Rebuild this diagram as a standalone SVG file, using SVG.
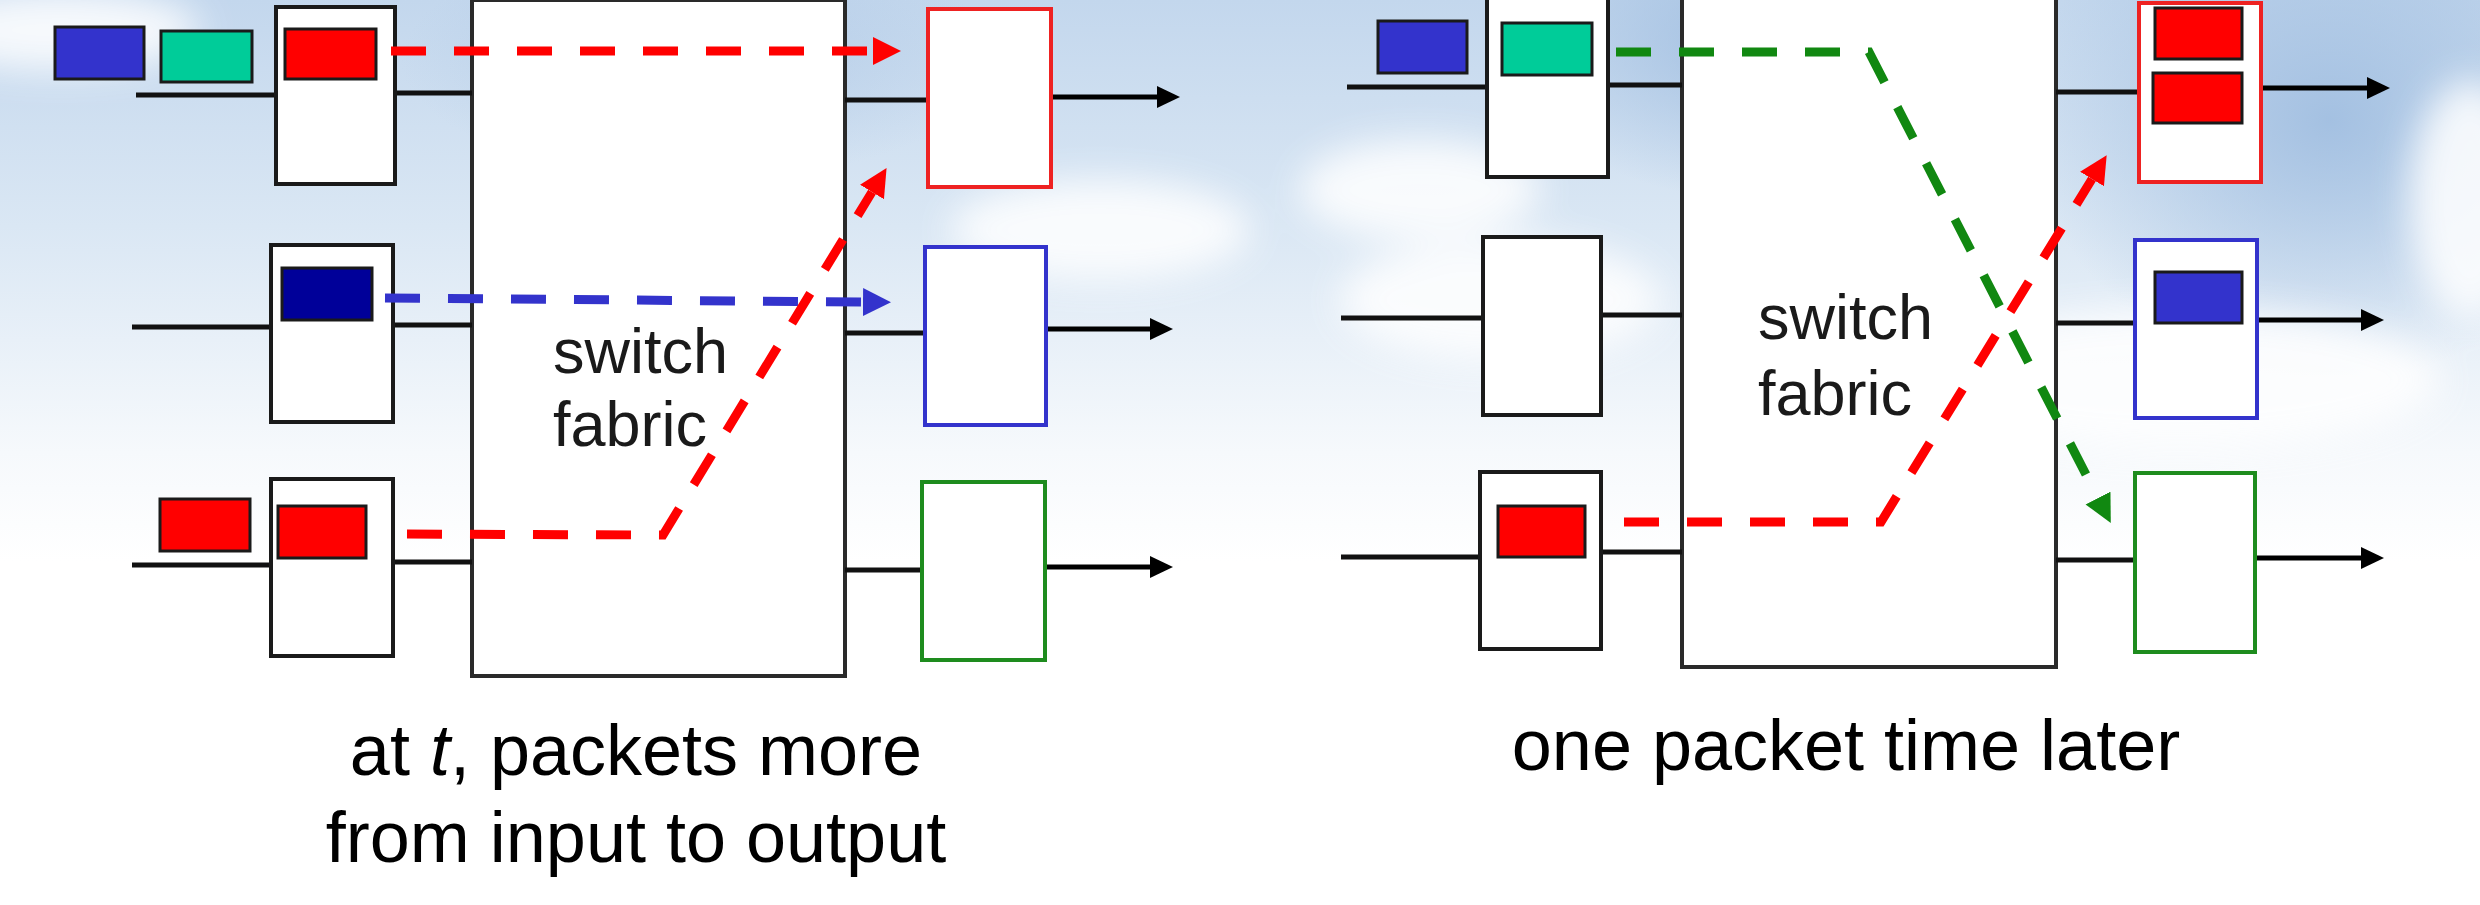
<svg xmlns="http://www.w3.org/2000/svg" width="2480" height="905" viewBox="0 0 2480 905">
<defs>
<linearGradient id="sky" x1="0" y1="0" x2="0" y2="1">
<stop offset="0" stop-color="#c3d7ed"/>
<stop offset="0.25" stop-color="#dae7f4"/>
<stop offset="0.5" stop-color="#f6f9fc"/>
<stop offset="0.62" stop-color="#ffffff"/>
<stop offset="1" stop-color="#ffffff"/>
</linearGradient>
<radialGradient id="deep" cx="0.5" cy="0.5" r="0.5">
<stop offset="0" stop-color="#9fbde0" stop-opacity="0.9"/>
<stop offset="1" stop-color="#9fbde0" stop-opacity="0"/>
</radialGradient>
<filter id="blur" x="-50%" y="-50%" width="200%" height="200%"><feGaussianBlur stdDeviation="18"/></filter>
<marker id="ah-red" markerUnits="userSpaceOnUse" markerWidth="30" markerHeight="30" refX="0" refY="14" orient="auto"><path d="M0,0 L28,14 L0,28 z" fill="#ff0000"/></marker>
<marker id="ah-blue" markerUnits="userSpaceOnUse" markerWidth="30" markerHeight="30" refX="0" refY="14" orient="auto"><path d="M0,0 L28,14 L0,28 z" fill="#3333cc"/></marker>
<marker id="ah-green" markerUnits="userSpaceOnUse" markerWidth="30" markerHeight="30" refX="0" refY="14" orient="auto"><path d="M0,0 L28,14 L0,28 z" fill="#118811"/></marker>
<marker id="ah-black" markerUnits="userSpaceOnUse" markerWidth="24" markerHeight="24" refX="0" refY="11" orient="auto"><path d="M0,0 L23,11 L0,22 z" fill="#000"/></marker>
</defs>
<style>
.inbox{fill:#fff;stroke:#1a1a1a;stroke-width:4}
.fabric{fill:#fff;stroke:#2a2a2a;stroke-width:4}
.wire{stroke:#111;stroke-width:5;fill:none}
.out{stroke:#000;stroke-width:5;fill:none;marker-end:url(#ah-black)}
.pk{stroke:#1a1a1a;stroke-width:3}
.red{fill:#ff0000}.blu{fill:#3333cc}.nav{fill:#000099}.grn{fill:#00cc99}
.obr{fill:#fff;stroke:#ee2222;stroke-width:4}
.obb{fill:#fff;stroke:#3333cc;stroke-width:4}
.obg{fill:#fff;stroke:#1e8c1e;stroke-width:4}
.dash{fill:none;stroke-width:9;stroke-dasharray:35 28}
.lbl{font-family:"Liberation Sans",Arial,sans-serif;font-size:63px;fill:#1a1a1a}
.cap{font-family:"Liberation Sans",Arial,sans-serif;font-size:72px;fill:#000;text-anchor:middle}
</style>
<g id="background">
<rect x="0" y="0" width="2480" height="905" fill="url(#sky)"/>
<ellipse cx="1760" cy="40" rx="260" ry="160" fill="url(#deep)"/>
<ellipse cx="2330" cy="120" rx="300" ry="260" fill="url(#deep)"/>
<ellipse cx="700" cy="60" rx="300" ry="120" fill="url(#deep)" opacity="0.5"/>
<g filter="url(#blur)" fill="#ffffff" opacity="0.85">
<ellipse cx="60" cy="30" rx="140" ry="40"/>
<ellipse cx="1420" cy="190" rx="120" ry="50"/>
<ellipse cx="1500" cy="300" rx="160" ry="60"/>
<ellipse cx="2180" cy="380" rx="260" ry="70"/>
<ellipse cx="2470" cy="200" rx="60" ry="120"/>
<ellipse cx="1100" cy="230" rx="150" ry="50"/>
</g>
</g>
<g id="left-panel">
<g id="L-fabric"><rect class="fabric" x="472" y="0" width="373" height="676"/>
<text class="lbl" x="553" y="373">switch</text><text class="lbl" x="553" y="446">fabric</text></g>
<g id="L-wires">
<line class="wire" x1="136" y1="95" x2="276" y2="95"/><line class="wire" x1="395" y1="93" x2="472" y2="93"/>
<line class="wire" x1="132" y1="327" x2="271" y2="327"/><line class="wire" x1="393" y1="325" x2="472" y2="325"/>
<line class="wire" x1="132" y1="565" x2="271" y2="565"/><line class="wire" x1="393" y1="562" x2="472" y2="562"/>
<line class="wire" x1="845" y1="100" x2="928" y2="100"/>
<line class="wire" x1="845" y1="333" x2="925" y2="333"/>
<line class="wire" x1="845" y1="570" x2="922" y2="570"/>
<line class="out" x1="1043" y1="97" x2="1157" y2="97"/>
<line class="out" x1="1039" y1="329" x2="1150" y2="329"/>
<line class="out" x1="1039" y1="567" x2="1150" y2="567"/>
</g>
<g id="L-in1"><rect class="inbox" x="276" y="7" width="119" height="177"/><rect class="pk red" x="285" y="29" width="91" height="50"/></g>
<g id="L-in2"><rect class="inbox" x="271" y="245" width="122" height="177"/><rect class="pk nav" x="282" y="268" width="90" height="52"/></g>
<g id="L-in3"><rect class="inbox" x="271" y="479" width="122" height="177"/><rect class="pk red" x="278" y="506" width="88" height="52"/></g>
<g id="L-queue"><rect class="pk blu" x="55" y="27" width="89" height="52"/><rect class="pk grn" x="161" y="31" width="91" height="51"/><rect class="pk red" x="160" y="499" width="90" height="52"/></g>
<g id="L-out1"><rect class="obr" x="928" y="9" width="123" height="178"/></g>
<g id="L-out2"><rect class="obb" x="925" y="247" width="121" height="178"/></g>
<g id="L-out3"><rect class="obg" x="922" y="482" width="123" height="178"/></g>
<g id="L-connectors">
<path class="dash" stroke="#ff0000" d="M391,51 L873,51" marker-end="url(#ah-red)"/>
<path class="dash" stroke="#3333cc" d="M385,298 L863,302" marker-end="url(#ah-blue)"/>
<path class="dash" stroke="#ff0000" d="M407,534 L663,535 L872,192" marker-end="url(#ah-red)"/>
</g>
<text class="cap" x="636" y="775">at <tspan font-style="italic">t</tspan>, packets more</text>
<text class="cap" x="636" y="862">from input to output</text>
</g>
<g id="right-panel">
<g id="R-fabric"><rect class="fabric" x="1682" y="-2" width="374" height="669"/>
<text class="lbl" x="1758" y="339">switch</text><text class="lbl" x="1758" y="415">fabric</text></g>
<g id="R-wires">
<line class="wire" x1="1347" y1="87" x2="1487" y2="87"/><line class="wire" x1="1608" y1="85" x2="1682" y2="85"/>
<line class="wire" x1="1341" y1="318" x2="1483" y2="318"/><line class="wire" x1="1601" y1="315" x2="1682" y2="315"/>
<line class="wire" x1="1341" y1="557" x2="1480" y2="557"/><line class="wire" x1="1601" y1="552" x2="1682" y2="552"/>
<line class="wire" x1="2056" y1="92" x2="2139" y2="92"/>
<line class="wire" x1="2056" y1="323" x2="2135" y2="323"/>
<line class="wire" x1="2056" y1="560" x2="2135" y2="560"/>
<line class="out" x1="2253" y1="88" x2="2367" y2="88"/>
<line class="out" x1="2250" y1="320" x2="2361" y2="320"/>
<line class="out" x1="2250" y1="558" x2="2361" y2="558"/>
</g>
<g id="R-in1"><rect class="inbox" x="1487" y="-2" width="121" height="179"/><rect class="pk grn" x="1502" y="23" width="90" height="52"/></g>
<g id="R-in2"><rect class="inbox" x="1483" y="237" width="118" height="178"/></g>
<g id="R-in3"><rect class="inbox" x="1480" y="472" width="121" height="177"/><rect class="pk red" x="1498" y="506" width="87" height="51"/></g>
<g id="R-queue"><rect class="pk blu" x="1378" y="21" width="89" height="52"/></g>
<g id="R-out1"><rect class="obr" x="2139" y="3" width="122" height="179"/><rect class="pk red" x="2155" y="8" width="87" height="51"/><rect class="pk red" x="2153" y="73" width="89" height="50"/></g>
<g id="R-out2"><rect class="obb" x="2135" y="240" width="122" height="178"/><rect class="pk blu" x="2155" y="272" width="87" height="51"/></g>
<g id="R-out3"><rect class="obg" x="2135" y="473" width="120" height="179"/></g>
<g id="R-connectors">
<path class="dash" stroke="#118811" d="M1616,52 L1869,52 L2098,498" marker-end="url(#ah-green)"/>
<path class="dash" stroke="#ff0000" d="M1624,522 L1881,522 L2092,179" marker-end="url(#ah-red)"/>
</g>
<text class="cap" x="1846" y="770">one packet time later</text>
</g>
</svg>
